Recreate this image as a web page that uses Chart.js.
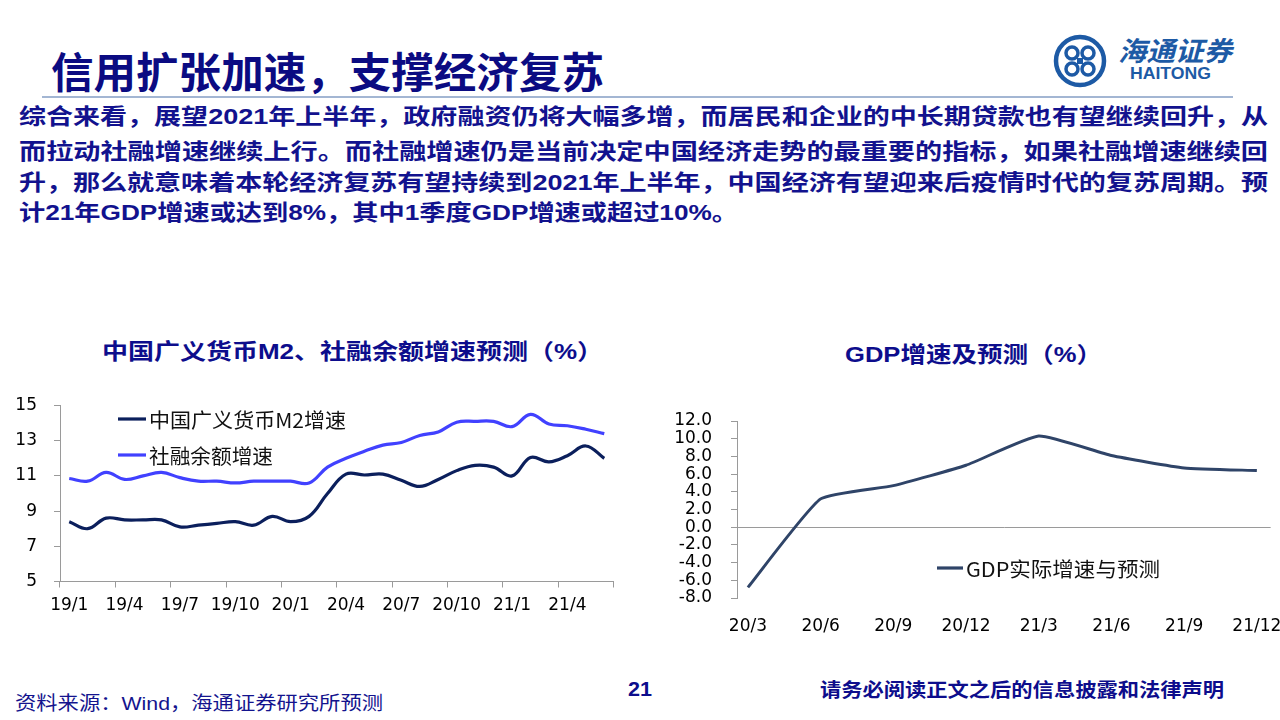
<!DOCTYPE html>
<html>
<head>
<meta charset="utf-8">
<script src="https://cdn.jsdelivr.net/npm/chart.js@4.4.1/dist/chart.umd.min.js"></script>
<style>
  html, body { margin: 0; padding: 0; background: #fff; }
  #page { position: relative; width: 1280px; height: 720px; overflow: hidden; background: #fff; }
  .txt { position: absolute; white-space: nowrap; transform-origin: 0 50%; }
  .cjk { font-family: "Liberation Sans", "Noto Sans CJK SC", sans-serif; }
  #title { left: 51px; top: 49px; font-size: 42px; line-height: 42px; font-weight: 700; color: #0b0b82; font-family: "Noto Sans CJK SC", sans-serif; }
  #rule { position: absolute; left: 42px; top: 96px; width: 1191px; height: 2px; background: #a3b6d3; }
  .para { font-size: 22px; line-height: 22px; font-weight: 700; color: #12128e; left: 19px; }
  .ctitle { font-size: 22px; line-height: 22px; font-weight: 700; color: #0d0d8c; }
  #foot1 { left: 15px; top: 694px; font-size: 19px; line-height: 20px; color: #14148e; }
  #foot2 { left: 628px; top: 679px; font-size: 20px; line-height: 20px; font-weight: 700; color: #0d0d8c; }
  #foot3 { left: 820px; top: 681px; font-size: 19px; line-height: 20px; font-weight: 700; color: #0d0d8c; }
  #logoTxt { left: 1118px; top: 36px; font-size: 27px; line-height: 28px; font-style: italic; font-weight: 700; color: #1d5aa5; font-family: "Noto Sans CJK SC", serif; }
  #logoEn { left: 1130px; top: 65px; font-size: 17px; line-height: 18px; font-weight: 700; color: #1d5aa5; font-family: "Liberation Sans", sans-serif; }
  #c1 { position: absolute; left: 0; top: 390px; }
  #c2 { position: absolute; left: 640px; top: 400px; }
</style>
</head>
<body>
<div id="page">
  <div id="title" class="txt">信用扩张加速，支撑经济复苏</div>
  <svg style="position:absolute;left:1052px;top:33px" width="56" height="56" viewBox="0 0 56 56">
    <circle cx="28" cy="28" r="24" fill="none" stroke="#1d5aa5" stroke-width="4.5"/>
    <circle cx="20" cy="20" r="6" fill="none" stroke="#1d5aa5" stroke-width="3.5"/>
    <circle cx="36" cy="20" r="6" fill="none" stroke="#1d5aa5" stroke-width="3.5"/>
    <circle cx="20" cy="36" r="6" fill="none" stroke="#1d5aa5" stroke-width="3.5"/>
    <circle cx="36" cy="36" r="6" fill="none" stroke="#1d5aa5" stroke-width="3.5"/>
    <rect x="25" y="25" width="6" height="6" fill="#1d5aa5"/>
  </svg>
  <div id="logoTxt" class="txt">海通证券</div>
  <div id="logoEn" class="txt">HAITONG</div>
  <div id="rule"></div>

  <div id="p1" class="txt para cjk" style="top:106px">综合来看，展望2021年上半年，政府融资仍将大幅多增，而居民和企业的中长期贷款也有望继续回升，从</div>
  <div id="p2" class="txt para cjk" style="top:141px">而拉动社融增速继续上行。而社融增速仍是当前决定中国经济走势的最重要的指标，如果社融增速继续回</div>
  <div id="p3" class="txt para cjk" style="top:172px">升，那么就意味着本轮经济复苏有望持续到2021年上半年，中国经济有望迎来后疫情时代的复苏周期。预</div>
  <div id="p4" class="txt para cjk" style="top:202px">计21年GDP增速或达到8%，其中1季度GDP增速或超过10%。</div>

  <div id="t1" class="txt ctitle cjk" style="left:102px;top:341px">中国广义货币M2、社融余额增速预测（%）</div>
  <div id="t2" class="txt ctitle cjk" style="left:845px;top:344px">GDP增速及预测（%）</div>

  <canvas id="c1" width="640" height="240"></canvas>
  <canvas id="c2" width="660" height="245"></canvas>

  <div id="foot1" class="txt cjk">资料来源：Wind，海通证券研究所预测</div>
  <div id="foot2" class="txt cjk">21</div>
  <div id="foot3" class="txt cjk">请务必阅读正文之后的信息披露和法律声明</div>
</div>

<script>
// 数据：月度（19/1 - 21/6）
var monthLabels = ['19/1','19/2','19/3','19/4','19/5','19/6','19/7','19/8','19/9','19/10','19/11','19/12',
                   '20/1','20/2','20/3','20/4','20/5','20/6','20/7','20/8','20/9','20/10','20/11','20/12',
                   '21/1','21/2','21/3','21/4','21/5','21/6'];
var m2Growth  = [8.4, 8.0, 8.6, 8.5, 8.5, 8.5, 8.1, 8.2, 8.3, 8.4, 8.2, 8.7,
                 8.4, 8.7, 10.0, 11.1, 11.05, 11.1, 10.75, 10.4, 10.8, 11.3, 11.6, 11.5,
                 11.0, 12.05, 11.8, 12.15, 12.7, 12.0];
var tsfGrowth = [10.85, 10.7, 11.2, 10.8, 11.0, 11.2, 10.9, 10.7, 10.7, 10.6, 10.7, 10.7,
                 10.7, 10.6, 11.5, 12.0, 12.4, 12.75, 12.9, 13.3, 13.5, 14.05, 14.1, 14.1,
                 13.8, 14.5, 13.95, 13.85, 13.65, 13.4];

// 数据：季度GDP
var gdpLabels = ['20/3','20/6','20/9','20/12','21/3','21/6','21/9','21/12'];
var gdpGrowth = [-6.8, 3.2, 4.7, 7.0, 10.3, 8.1, 6.7, 6.4];

var NAVY = '#0b1f5c', BLUE = '#4141ff', SLATE = '#2f4468', AXIS = '#9a9a9a';
var tickFont = { family: 'DejaVu Sans', size: 17 };

// 图内图例
var insideLegend = {
  id: 'insideLegend',
  afterDraw: function(chart, args, opts) {
    var c = chart.ctx;
    chart.data.datasets.forEach(function(ds, i) {
      var it = opts.items[i];
      c.save();
      c.strokeStyle = ds.borderColor;
      c.lineWidth = 3.2;
      c.beginPath(); c.moveTo(it.x0, it.y); c.lineTo(it.x1, it.y); c.stroke();
      c.font = '20px "Noto Sans CJK SC"';
      c.fillStyle = '#111';
      c.textBaseline = 'middle';
      var w = c.measureText(ds.label).width;
      c.translate(it.tx, it.y);
      c.scale(it.tw / w, 1);
      c.fillText(ds.label, 0, 1);
      c.restore();
    });
  }
};

// y轴固定宽度，不让刻度留白撑开绘图区
function fixY(width) {
  return function(s) { s.width = width; s.paddingTop = 0; s.paddingBottom = 0; };
}

new Chart(document.getElementById('c1'), {
  type: 'line',
  data: {
    labels: monthLabels,
    datasets: [
      { label: '中国广义货币M2增速', data: m2Growth, borderColor: NAVY, borderWidth: 3.2, pointRadius: 0, tension: 0.4 },
      { label: '社融余额增速', data: tsfGrowth, borderColor: BLUE, borderWidth: 3.2, pointRadius: 0, tension: 0.4 }
    ]
  },
  options: {
    responsive: false, animation: false,
    layout: { padding: { top: 15.5, right: 26.5, left: 0, bottom: 0 } },
    plugins: {
      legend: { display: false }, tooltip: { enabled: false },
      insideLegend: { items: [
        { x0: 118, x1: 146, y: 29, tx: 149, tw: 197 },
        { x0: 118, x1: 146, y: 65, tx: 149, tw: 124 }
      ] }
    },
    scales: {
      x: {
        type: 'category', offset: true,
        grid: { offset: true, drawOnChartArea: false, tickLength: 6,
                color: function(c) { return (c.index === undefined || c.index % 3 === 0) ? AXIS : 'rgba(0,0,0,0)'; } },
        border: { color: AXIS },
        ticks: { autoSkip: false, maxRotation: 0, padding: 8, font: tickFont, color: '#000',
                 callback: function(v, i) { return i % 3 === 0 ? monthLabels[i] : ''; } },
        afterFit: function(s) { s.height = 48.5; }
      },
      y: {
        min: 5, max: 15,
        grid: { drawOnChartArea: false, tickLength: 6, color: AXIS },
        border: { color: AXIS },
        ticks: { stepSize: 2, autoSkip: false, padding: 17, font: tickFont, color: '#000' },
        afterFit: fixY(60)
      }
    }
  },
  plugins: [insideLegend]
});

new Chart(document.getElementById('c2'), {
  type: 'line',
  data: {
    datasets: [
      { label: 'GDP实际增速与预测', data: gdpGrowth.map(function(v, i) { return { x: i, y: v }; }),
        borderColor: SLATE, borderWidth: 3, pointRadius: 0, tension: 0.15 }
    ]
  },
  options: {
    responsive: false, animation: false,
    layout: { padding: { top: 21, right: 25, left: 0, bottom: 0 } },
    plugins: {
      legend: { display: false }, tooltip: { enabled: false },
      insideLegend: { items: [ { x0: 297, x1: 323, y: 168, tx: 326, tw: 194 } ] }
    },
    scales: {
      x: {
        type: 'linear', min: -0.15, max: 7.19,
        afterBuildTicks: function(s) { s.ticks = gdpLabels.map(function(l, i) { return { value: i }; }); },
        grid: { display: false, drawTicks: false },
        border: { display: false },
        ticks: { padding: 18, font: tickFont, color: '#000', maxRotation: 0, autoSkip: false,
                 callback: function(v) { return gdpLabels[v]; } },
        afterFit: function(s) { s.height = 47; }
      },
      y: {
        min: -8, max: 12,
        grid: { tickLength: 6, tickColor: AXIS,
                color: function(c) { return (c.tick && c.tick.value === 0) ? AXIS : 'rgba(0,0,0,0)'; } },
        border: { color: AXIS },
        ticks: { stepSize: 2, autoSkip: false, padding: 19, font: tickFont, color: '#000',
                 callback: function(v) { return v.toFixed(1); } },
        afterFit: fixY(97)
      }
    }
  },
  plugins: [insideLegend]
});

// 文字宽度按原图拉伸
function fitWidth(id, target) {
  var el = document.getElementById(id);
  el.style.transform = 'none';
  var w = el.getBoundingClientRect().width;
  el.style.transform = 'scaleX(' + (target / w) + ')';
}
function fitAll() {
  fitWidth('title', 553);
  fitWidth('p1', 1249); fitWidth('p2', 1249); fitWidth('p3', 1249); fitWidth('p4', 719);
  fitWidth('t1', 501); fitWidth('t2', 257);
  fitWidth('foot1', 368); fitWidth('foot2', 24); fitWidth('foot3', 404);
  fitWidth('logoTxt', 114); fitWidth('logoEn', 81);
}
fitAll();
if (document.fonts && document.fonts.ready) document.fonts.ready.then(fitAll);
</script>
</body>
</html>
